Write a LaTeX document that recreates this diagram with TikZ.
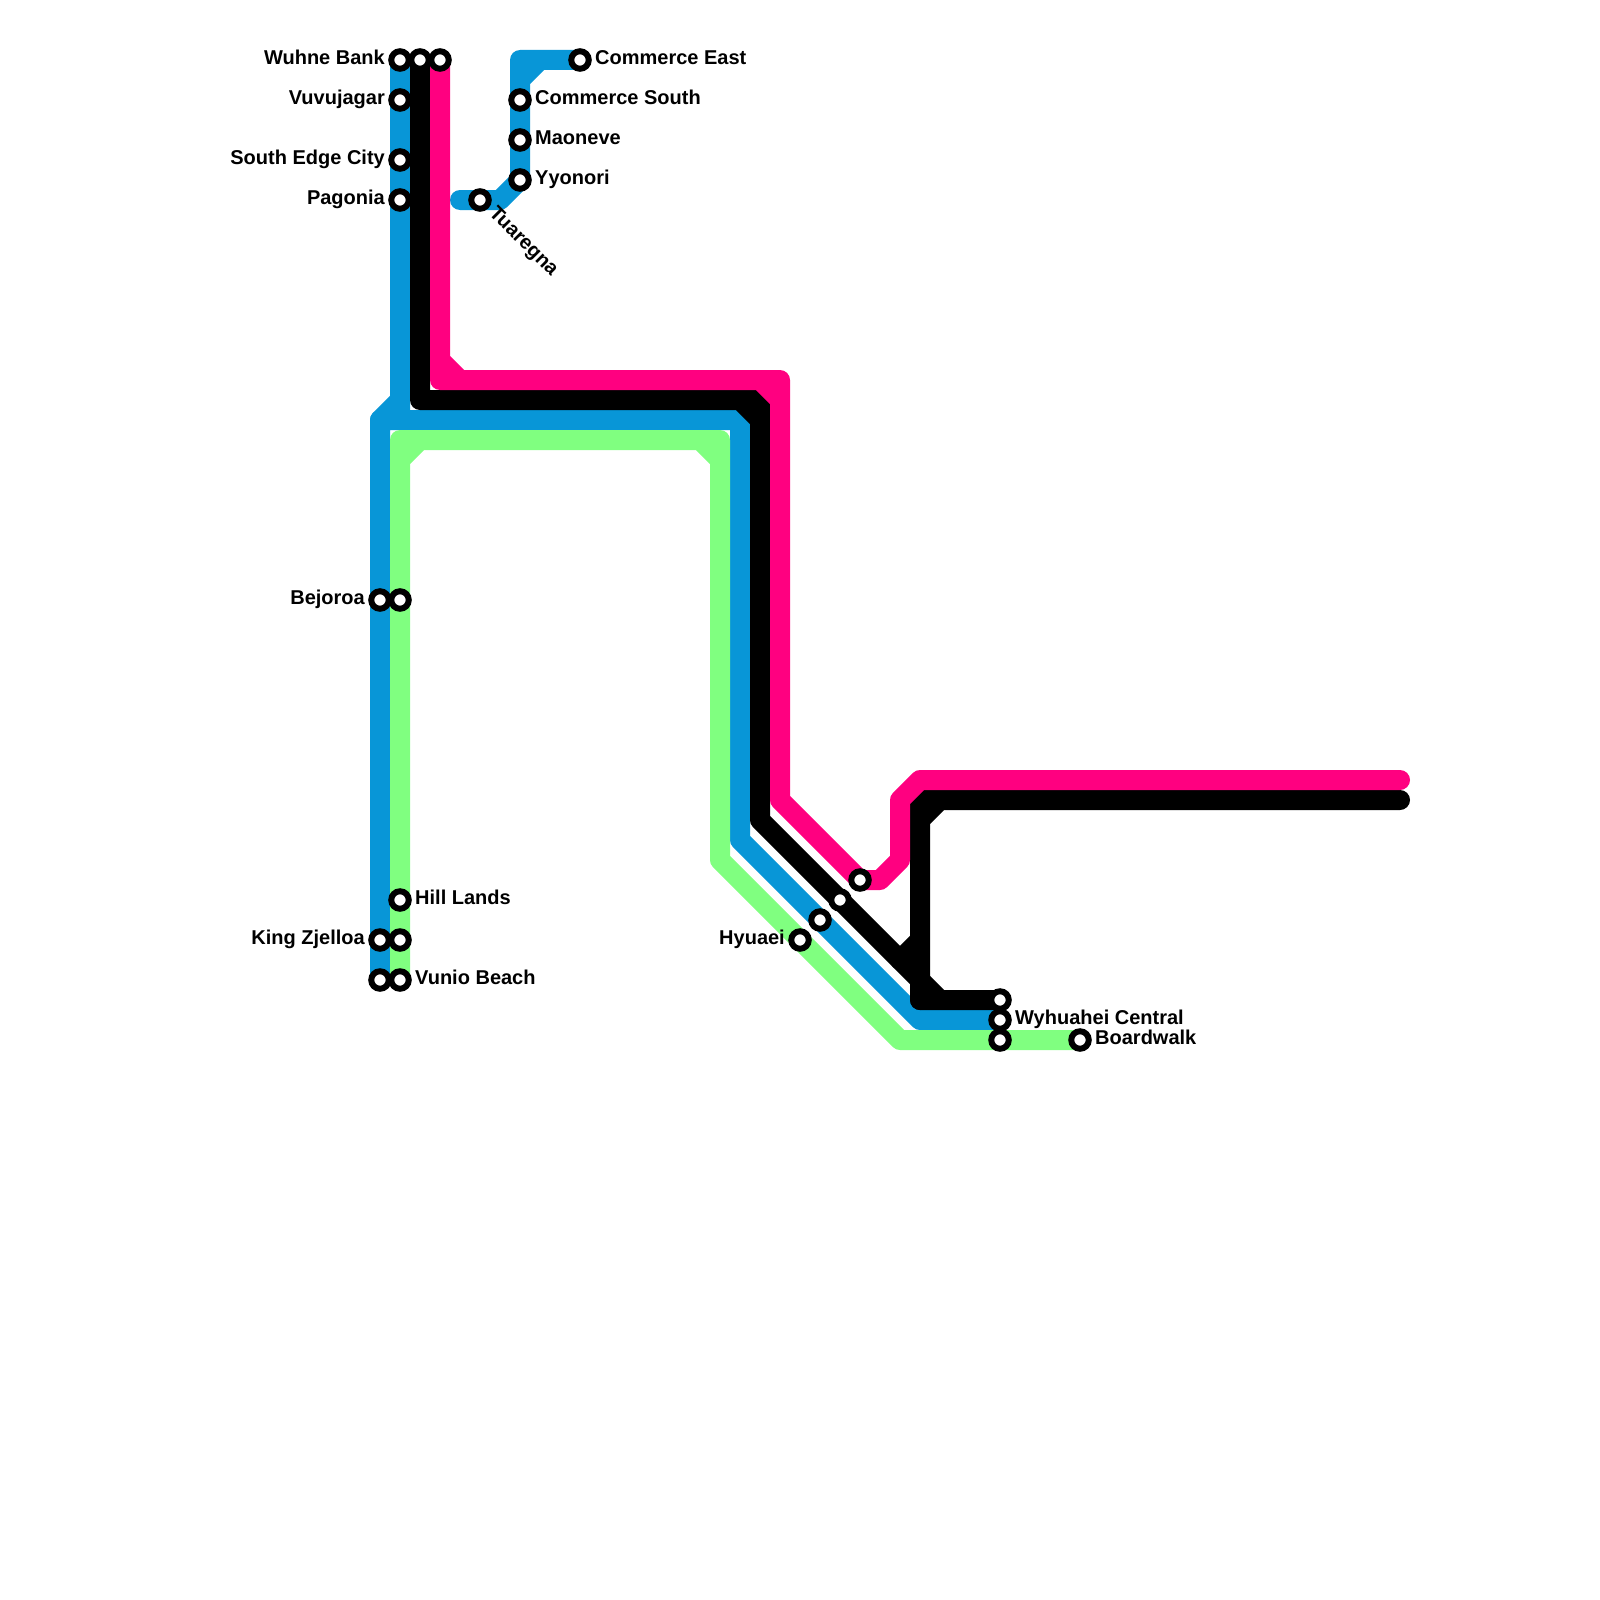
\documentclass[tikz,border=0pt]{standalone}
\usepackage{fontspec}
\setmainfont{Liberation Sans}
\definecolor{mblue}{HTML}{0896D7}
\definecolor{mpink}{HTML}{FF0080}
\definecolor{mgreen}{HTML}{80FF80}
\pgfdeclarelayer{lines}
\pgfsetlayers{lines,main}
\tikzset{
  x=1pt,y=-1pt,
  metro/.style={line width=20pt,line cap=round,line join=round},
  blueline/.style={metro,draw=mblue},
  greenline/.style={metro,draw=mgreen},
  blackline/.style={metro,draw=black},
  pinkline/.style={metro,draw=mpink},
  stn/.style={circle,draw=black,fill=white,line width=6pt,minimum size=17.5pt,inner sep=0pt},
  lab/.style={font=\fontsize{20}{20}\selectfont\bfseries,inner sep=0pt,text=black},
  labr/.style={lab,anchor=mid west},
  labl/.style={lab,anchor=mid east},
}
\begin{document}
\begin{tikzpicture}
\useasboundingbox (0,0) rectangle (1600,1600);
% stations
\node[stn] (wuhne) at (400,60) {};
\node[stn] (blacktop) at (420,60) {};
\node[stn] (pinktop) at (440,60) {};
\node[stn] (vuvu) at (400,100) {};
\node[stn] (sedge) at (400,160) {};
\node[stn] (pagonia) at (400,200) {};
\node[stn] (ceast) at (580,60) {};
\node[stn] (csouth) at (520,100) {};
\node[stn] (maoneve) at (520,140) {};
\node[stn] (yyonori) at (520,180) {};
\node[stn] (tuaregna) at (480,200) {};
\node[stn] (bejoroa) at (380,600) {};
\node[stn] (bejoroag) at (400,600) {};
\node[stn] (hill) at (400,900) {};
\node[stn] (kingz) at (380,940) {};
\node[stn] (kingzg) at (400,940) {};
\node[stn] (blueend) at (380,980) {};
\node[stn] (vunio) at (400,980) {};
\node[stn] (pinkst) at (860,880) {};
\node[stn] (blackst) at (840,900) {};
\node[stn] (bluest) at (820,920) {};
\node[stn] (hyuaei) at (800,940) {};
\node[stn] (wyblack) at (1000,1000) {};
\node[stn] (wyblue) at (1000,1020) {};
\node[stn] (wygreen) at (1000,1040) {};
\node[stn] (board) at (1080,1040) {};
% labels
\node[labl] (lwuhne) at (385,62) {Wuhne Bank};
\node[labl] (lvuvu) at (385,102) {Vuvujagar};
\node[labl] (lsedge) at (385,162) {South Edge City};
\node[labl] (lpagonia) at (385,202) {Pagonia};
\node[labr] (lceast) at (595,62) {Commerce East};
\node[labr] (lcsouth) at (535,102) {Commerce South};
\node[labr] (lmaoneve) at (535,142) {Maoneve};
\node[labr] (lyyonori) at (535,182) {Yyonori};
\node[labr,rotate=-45,anchor=mid west] (ltuaregna) at (490,212) {Tuaregna};
\node[labl] (lbejoroa) at (365,602) {Bejoroa};
\node[labr] (lhill) at (415,902) {Hill Lands};
\node[labl] (lkingz) at (365,942) {King Zjelloa};
\node[labr] (lvunio) at (415,982) {Vunio Beach};
\node[labl] (lhyuaei) at (785,942) {Hyuaei};
\node[labr] (lwy) at (1015,1022) {Wyhuahei Central};
\node[labr] (lboard) at (1095,1042) {Boardwalk};
% bends
\coordinate (b1) at (400,400);
\coordinate (b0) at (400,420);
\coordinate (b2) at (380,420);
\coordinate (b3) at (740,420);
\coordinate (b4) at (740,840);
\coordinate (b5) at (920,1020);
\coordinate (c1) at (460,200);
\coordinate (c2) at (500,200);
\coordinate (c3) at (520,60);
\coordinate (c4) at (520,80);
\coordinate (c5) at (540,60);
\coordinate (g1) at (400,440);
\coordinate (g2) at (720,440);
\coordinate (g3) at (720,860);
\coordinate (g4) at (900,1040);
\coordinate (g5) at (400,460);
\coordinate (g6) at (420,440);
\coordinate (g7) at (700,440);
\coordinate (g8) at (720,460);
\coordinate (k1) at (420,400);
\coordinate (k2) at (760,400);
\coordinate (k3) at (760,820);
\coordinate (k4) at (920,980);
\coordinate (k5) at (920,1000);
\coordinate (k6) at (940,1000);
\coordinate (k7) at (740,400);
\coordinate (k8) at (760,420);
\coordinate (k9) at (1400,800);
\coordinate (k10) at (920,800);
\coordinate (k11) at (920,940);
\coordinate (k12) at (900,960);
\coordinate (k13) at (920,820);
\coordinate (k14) at (940,800);
\coordinate (p1) at (440,380);
\coordinate (p2) at (780,380);
\coordinate (p3) at (780,800);
\coordinate (p4) at (880,880);
\coordinate (p5) at (900,860);
\coordinate (p6) at (900,800);
\coordinate (p7) at (920,780);
\coordinate (p8) at (1400,780);
\coordinate (p9) at (440,360);
\coordinate (p10) at (460,380);
\coordinate (p11) at (760,380);
\coordinate (p12) at (780,400);
\begin{pgfonlayer}{lines}
\fill[white] (0,0) rectangle (1600,1600);
% blue
\draw[blueline] (wuhne.center) -- (vuvu.center) -- (sedge.center) -- (pagonia.center) -- (b1) -- (b2) (b1) -- (b0);
\draw[blueline] (blueend.center) -- (kingz.center) -- (bejoroa.center) -- (b2) -- (b3) -- (b4) -- (bluest.center) -- (b5) -- (wyblue.center);
\draw[blueline] (c1) -- (tuaregna.center) -- (c2) -- (yyonori.center) -- (maoneve.center) -- (csouth.center) -- (c3) -- (ceast.center) (c4) -- (c5);
% green
\draw[greenline] (vunio.center) -- (kingzg.center) -- (hill.center) -- (bejoroag.center) -- (g1) -- (g2) -- (g3) -- (hyuaei.center) -- (g4) -- (wygreen.center) -- (board.center) (g5) -- (g6) (g7) -- (g8);
% black
\draw[blackline] (blacktop.center) -- (k1) -- (k2) -- (k3) -- (blackst.center) -- (k4) -- (k5) -- (wyblack.center) (k4) -- (k6) (k7) -- (k8);
\draw[blackline] (k9) -- (k10) -- (k5) (k11) -- (k12) (k13) -- (k14);
% pink
\draw[pinkline] (pinktop.center) -- (p1) -- (p2) -- (p3) -- (pinkst.center) -- (p4) -- (p5) -- (p6) -- (p7) -- (p8) (p9) -- (p10) (p11) -- (p12);
\end{pgfonlayer}
\end{tikzpicture}
\end{document}
